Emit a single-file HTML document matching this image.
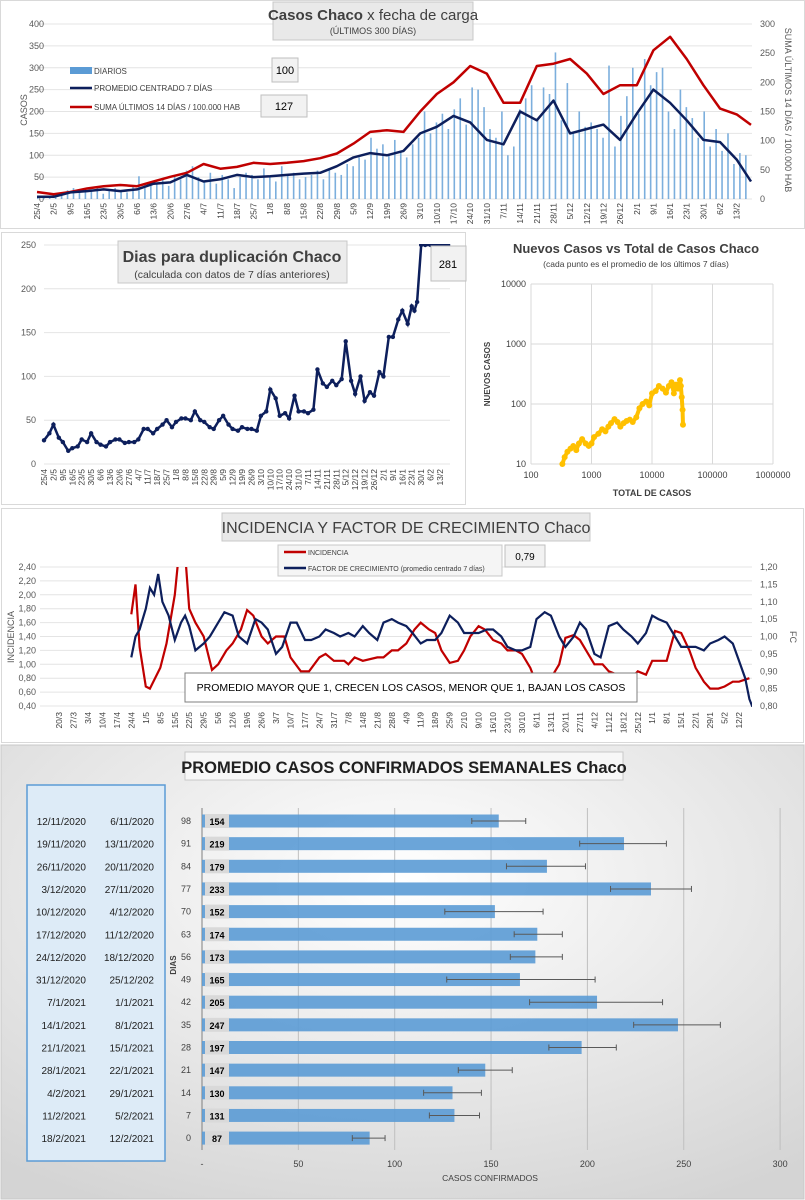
<!DOCTYPE html>
<html><head><meta charset="utf-8">
<style>
body{margin:0;width:805px;height:1200px;background:#fff;font-family:"Liberation Sans Narrow","Liberation Sans",sans-serif;overflow:hidden}
svg{position:absolute;left:0;top:0}
text{font-family:"Liberation Sans Narrow","Liberation Sans",sans-serif}
</style></head><body>
<svg id="s" width="805" height="1200">
<defs>
<radialGradient id="g4" cx="0.5" cy="0.3" r="0.8"><stop offset="0" stop-color="#ffffff"/><stop offset="1" stop-color="#d4d4d4"/></radialGradient>
<clipPath id="c3"><rect x="40" y="567" width="712" height="140"/></clipPath>
<clipPath id="c2"><rect x="40" y="244" width="420" height="222"/></clipPath>
</defs>
</svg>
<script>
// ---------- DATA ----------
const c1Labels=["25/4","2/5","9/5","16/5","23/5","30/5","6/6","13/6","20/6","27/6","4/7","11/7","18/7","25/7","1/8","8/8","15/8","22/8","29/8","5/9","12/9","19/9","26/9","3/10","10/10","17/10","24/10","31/10","7/11","14/11","21/11","28/11","5/12","12/12","19/12","26/12","2/1","9/1","16/1","23/1","30/1","6/2","13/2"];
const c1Bars=[8,5,4,10,12,20,25,15,18,22,28,12,18,25,20,15,30,52,25,40,35,45,30,55,45,65,75,50,40,60,35,55,45,25,50,60,55,45,70,50,40,75,55,60,45,50,55,65,45,70,60,55,80,75,95,90,140,115,125,100,135,110,95,125,140,200,150,175,195,160,205,230,170,255,250,210,160,140,200,100,120,205,230,260,185,255,240,335,180,265,150,200,165,175,160,140,305,120,190,235,300,195,320,260,290,300,200,160,250,210,185,140,200,120,160,110,150,80,105,100];
const c1Days=[0,7,14,21,28,35,42,49,56,63,70,77,84,91,98,105,112,119,126,133,140,147,154,161,168,175,182,189,196,203,210,217,224,231,238,245,252,259,266,273,280,287,294,300];
const c1Avg=[5,5,15,18,22,18,22,35,38,55,40,45,55,50,52,55,58,60,75,95,105,100,110,150,165,190,175,135,125,200,180,225,150,160,170,135,195,250,220,180,135,130,90,40];
const c1Sum=[12,8,12,18,22,24,22,30,38,45,60,52,55,62,60,62,65,70,78,95,115,118,115,150,180,200,228,215,165,165,228,232,240,215,180,195,195,255,278,240,195,155,145,127];

const c2Days=[0,4,7,11,14,18,21,25,28,32,35,39,42,46,49,53,56,60,63,67,70,74,77,81,84,88,91,95,98,102,105,109,112,116,119,123,126,130,133,137,140,144,147,151,154,158,161,165,168,172,175,179,182,186,189,193,196,200,203,207,210,214,217,221,224,228,231,235,238,242,245,249,252,256,259,263,266,270,273,275,277,280,283,287,290,294,297,300];
const c2Vals=[27,35,45,30,25,15,18,20,28,25,35,25,22,20,25,28,28,24,25,25,28,40,40,35,40,45,50,42,48,52,52,50,60,50,48,42,40,50,55,45,40,38,42,40,40,38,55,60,85,75,55,58,52,78,60,60,58,62,108,92,88,95,90,97,140,95,80,100,72,82,78,105,100,145,145,165,175,160,180,175,185,250,250,250,250,250,250,250];
const c3Total=[330,360,400,450,500,560,620,700,800,900,1000,1100,1300,1500,1700,1900,2100,2400,2700,3000,3400,3800,4300,4800,5500,6200,7000,8000,9000,10000,11500,13000,15000,17000,19000,21000,23000,25000,27000,29000,30000,31000,32000,32500];
const c3New=[10,13,16,18,20,17,22,26,22,20,22,28,32,38,35,42,48,56,50,42,48,52,55,50,60,85,100,110,95,150,165,200,180,155,200,230,150,210,180,250,200,130,80,45];
const c4Days=[35,37,39,42,44,46,48,50,53,56,59,61,63,66,70,73,77,80,84,87,91,95,98,101,105,108,112,115,119,122,126,129,133,136,140,143,147,150,154,157,161,164,168,171,175,178,182,185,189,193,196,200,203,207,210,214,217,221,224,228,231,235,238,242,245,249,252,255,259,262,266,270,273,277,280,284,287,290,294,298,301,305,308,312,315,319,322,326,329,332,334,336];
const c4FC=[0.94,1.0,1.02,1.08,1.14,1.12,1.18,1.10,1.06,0.99,1.04,1.06,1.03,0.96,0.98,1.0,1.04,1.07,1.06,1.0,0.98,1.05,1.04,1.02,0.95,0.97,1.04,1.04,0.99,0.99,1.0,1.02,1.01,1.0,1.01,1.0,1.03,1.01,0.99,1.04,1.05,1.04,1.03,1.01,0.98,0.99,0.99,1.01,1.06,1.04,1.01,1.01,1.01,1.02,1.02,1.0,0.97,0.96,0.96,0.97,1.05,1.07,1.06,1.0,0.97,1.0,1.04,1.02,0.95,0.94,1.03,1.04,1.02,1.0,0.98,1.01,1.06,1.05,1.04,1.0,0.97,0.97,0.97,0.96,0.98,0.99,1.0,0.98,0.93,0.88,0.82,0.79];
const c4IDays=[35,37,39,42,44,49,52,56,58,61,63,66,70,74,77,81,84,88,91,94,98,101,105,109,112,117,121,126,129,133,138,140,143,147,154,157,161,164,168,172,175,179,182,185,189,193,196,199,203,206,210,214,217,221,224,228,231,235,238,242,245,249,252,255,259,263,266,270,273,277,280,284,287,291,294,298,301,305,308,312,315,319,322,326,329,332,334];
const c4Inc=[1.72,2.15,1.25,0.68,0.65,0.95,1.3,2.0,2.6,2.6,1.8,1.6,1.4,0.92,1.0,1.2,1.3,1.5,1.78,1.7,1.4,1.3,1.4,1.4,1.1,0.9,0.9,1.1,1.15,1.05,1.05,1.0,1.1,1.05,1.1,1.1,1.2,1.2,1.3,1.5,1.6,1.5,1.45,1.2,1.02,1.05,1.2,1.4,1.55,1.5,1.35,1.3,1.2,1.2,1.15,0.95,0.72,0.72,0.8,1.0,1.38,1.42,1.35,1.2,1.0,1.0,0.9,0.85,0.72,0.8,0.9,0.85,1.05,1.05,1.05,1.48,1.45,1.2,0.95,0.75,0.65,0.65,0.68,0.75,0.75,0.78,0.8];
const c3Labels=["20/3","27/3","3/4","10/4","17/4","24/4","1/5","8/5","15/5","22/5","29/5","5/6","12/6","19/6","26/6","3/7","10/7","17/7","24/7","31/7","7/8","14/8","21/8","28/8","4/9","11/9","18/9","25/9","2/10","9/10","16/10","23/10","30/10","6/11","13/11","20/11","27/11","4/12","11/12","18/12","25/12","1/1","8/1","15/1","22/1","29/1","5/2","12/2"];
const wkVals=[154,219,179,233,152,174,173,165,205,247,197,147,130,131,87];
const wkLow=[140,196,158,212,126,162,160,127,170,224,180,133,115,118,78];
const wkHigh=[168,241,199,254,177,187,187,204,239,269,215,161,145,144,95];
const wkDias=[98,91,84,77,70,63,56,49,42,35,28,21,14,7,0];
const wkEnd=["12/11/2020","19/11/2020","26/11/2020","3/12/2020","10/12/2020","17/12/2020","24/12/2020","31/12/2020","7/1/2021","14/1/2021","21/1/2021","28/1/2021","4/2/2021","11/2/2021","18/2/2021"];
const wkStart=["6/11/2020","13/11/2020","20/11/2020","27/11/2020","4/12/2020","11/12/2020","18/12/2020","25/12/202","1/1/2021","8/1/2021","15/1/2021","22/1/2021","29/1/2021","5/2/2021","12/2/2021"];

// ---------- helpers ----------
const S=document.getElementById('s');const NS='http://www.w3.org/2000/svg';
function el(tag,at,txt,parent){const e=document.createElementNS(NS,tag);for(const k in at)e.setAttribute(k,at[k]);if(txt!==undefined)e.textContent=txt;(parent||S).appendChild(e);return e;}
function path(pts){return pts.map((p,i)=>(i?'L':'M')+p[0].toFixed(1)+' '+p[1].toFixed(1)).join('');}

// ---------- CHART 1 ----------
const x1=d=>37+d*2.38, y1=v=>199-v*0.4375, y1r=v=>199-v*(175/300);
let e=el('rect',{x:0.5,y:0.5,width:804,height:228,fill:'#fff',stroke:'#d9d9d9'});

for(let v=0;v<=400;v+=50){el('line',{x1:37,x2:752,y1:y1(v),y2:y1(v),stroke:'#e4e4e4'});
 e=el('text',{x:44,y:y1(v)+3,'font-size':9,fill:'#595959','text-anchor':'end'},String(v));}
for(let v=0;v<=300;v+=50){e=el('text',{x:760,y:y1r(v)+3,'font-size':9,fill:'#595959'},String(v));}
const bw=300/c1Bars.length;
c1Bars.forEach((v,i)=>{e=el('rect',{x:x1(i*bw),y:y1(v),width:1.6,height:199-y1(v),fill:'#5b9bd5',opacity:0.8});});
e=el('path',{d:path(c1Days.map((d,i)=>[x1(d),y1r(c1Sum[i])])),fill:'none',stroke:'#c00000','stroke-width':2.5,'stroke-linejoin':'round'});
e=el('path',{d:path(c1Days.map((d,i)=>[x1(d),y1(c1Avg[i])])),fill:'none',stroke:'#0d1f5c','stroke-width':2.5,'stroke-linejoin':'round'});
c1Labels.forEach((l,i)=>{const x=x1(i*7)+3;e=el('text',{x:x,y:203,'font-size':8.5,fill:'#404040','text-anchor':'end',transform:`rotate(-90 ${x} 203)`},l);});
e=el('text',{x:27,y:110,'font-size':9,fill:'#595959','text-anchor':'middle',transform:'rotate(-90 27 110)'},'CASOS');
e=el('text',{x:785,y:110,'font-size':9,fill:'#595959','text-anchor':'middle',transform:'rotate(90 785 110)'},'SUMA  ÚLTIMOS 14 DÍAS / 100.000 HAB');
e=el('rect',{x:273,y:2,width:200,height:38,fill:'#e9e9e9',stroke:'#c8c8c8'});
e=el('text',{x:373,y:20,'font-size':15,fill:'#404040','text-anchor':'middle'});
el('tspan',{'font-weight':'bold'},'Casos Chaco',e);el('tspan',{},' x fecha de carga',e);
e=el('text',{x:373,y:34,'font-size':9,fill:'#404040','text-anchor':'middle'},'(ÚLTIMOS 300 DÍAS)');
el('rect',{x:70,y:67,width:22,height:7,fill:'#5b9bd5'});
e=el('text',{x:94,y:74,'font-size':8,fill:'#404040'},'DIARIOS');
el('line',{x1:70,x2:92,y1:88,y2:88,stroke:'#0d1f5c','stroke-width':2.5});
e=el('text',{x:94,y:91,'font-size':8,fill:'#404040'},'PROMEDIO CENTRADO 7 DÍAS');
el('line',{x1:70,x2:92,y1:107,y2:107,stroke:'#c00000','stroke-width':2.5});
e=el('text',{x:94,y:110,'font-size':8,fill:'#404040'},'SUMA ÚLTIMOS 14 DÍAS / 100.000 HAB');
el('rect',{x:272,y:58,width:26,height:24,fill:'#f2f2f2',stroke:'#bfbfbf'});
e=el('text',{x:285,y:74,'font-size':11,fill:'#000','text-anchor':'middle'},'100');
el('rect',{x:261,y:95,width:46,height:22,fill:'#f2f2f2',stroke:'#bfbfbf'});
e=el('text',{x:284,y:110,'font-size':11,fill:'#000','text-anchor':'middle'},'127');

// ---------- CHART 2 ----------
const x2=d=>44+d*1.347, y2=v=>464-v*0.876;
e=el('rect',{x:1.5,y:232.5,width:464,height:272,fill:'#fff',stroke:'#d9d9d9'});
for(let v=0;v<=250;v+=50){el('line',{x1:44,x2:450,y1:y2(v),y2:y2(v),stroke:'#e4e4e4'});
 e=el('text',{x:36,y:y2(v)+3,'font-size':9,fill:'#595959','text-anchor':'end'},String(v));}
const g2=el('g',{'clip-path':'url(#c2)'});
e=el('path',{d:path(c2Days.map((d,i)=>[x2(d),y2(c2Vals[i])])),fill:'none',stroke:'#0d1f5c','stroke-width':2.5},undefined,g2);
c2Days.forEach((d,i)=>{e=el('circle',{cx:x2(d),cy:y2(c2Vals[i]),r:2.2,fill:'#0d1f5c'},undefined,g2);});
c1Labels.forEach((l,i)=>{const x=x2(i*7)+3;e=el('text',{x:x,y:469,'font-size':8.5,fill:'#404040','text-anchor':'end',transform:`rotate(-90 ${x} 469)`},l);});
e=el('rect',{x:118,y:241,width:229,height:42,fill:'#ececec',stroke:'#c8c8c8'});
e=el('text',{x:232,y:262,'font-size':16,'font-weight':'bold',fill:'#404040','text-anchor':'middle'},'Dias para duplicación Chaco');
e=el('text',{x:232,y:278,'font-size':10.5,fill:'#404040','text-anchor':'middle'},'(calculada con datos de 7 días anteriores)');
el('rect',{x:431,y:246,width:35,height:35,fill:'#f2f2f2',stroke:'#bfbfbf'});
e=el('text',{x:448,y:268,'font-size':11,fill:'#000','text-anchor':'middle'},'281');

// ---------- CHART 2b (log scatter) ----------
const xl=v=>531+(Math.log10(v)-2)*60.5, yl=v=>464-(Math.log10(v)-1)*60;
for(let p=2;p<=6;p++){el('line',{x1:xl(10**p),x2:xl(10**p),y1:284,y2:464,stroke:'#d9d9d9'});
 e=el('text',{x:xl(10**p),y:478,'font-size':9,fill:'#404040','text-anchor':'middle'},String(10**p));}
for(let p=1;p<=4;p++){el('line',{x1:531,x2:773,y1:yl(10**p),y2:yl(10**p),stroke:'#d9d9d9'});
 e=el('text',{x:526,y:yl(10**p)+3,'font-size':9,fill:'#404040','text-anchor':'end'},String(10**p));}
for(let i=0;i<c3Total.length;i++){e=el('circle',{cx:xl(c3Total[i]),cy:yl(c3New[i]),r:3,fill:'#ffc000'});
 if(i>0){el('line',{x1:xl(c3Total[i-1]),y1:yl(c3New[i-1]),x2:xl(c3Total[i]),y2:yl(c3New[i]),stroke:'#ffc000','stroke-width':4});}}
e=el('text',{x:636,y:253,'font-size':13,'font-weight':'bold',fill:'#404040','text-anchor':'middle'},'Nuevos Casos vs Total de Casos Chaco');
e=el('text',{x:636,y:267,'font-size':8.5,fill:'#404040','text-anchor':'middle'},'(cada punto es el promedio de los últimos 7 días)');
e=el('text',{x:490,y:374,'font-size':8,'font-weight':'bold',fill:'#404040','text-anchor':'middle',transform:'rotate(-90 490 374)'},'NUEVOS  CASOS');
e=el('text',{x:652,y:496,'font-size':9,'font-weight':'bold',fill:'#404040','text-anchor':'middle'},'TOTAL DE CASOS');

// ---------- CHART 3 ----------
const x3=d=>59+d*2.067, y3=v=>706-(v-0.4)*69.5, y3r=v=>706-(v-0.8)*347.5;
e=el('rect',{x:1.5,y:508.5,width:802,height:234,fill:'#fff',stroke:'#d9d9d9'});
for(let k=0;k<=10;k++){const v=0.4+k*0.2;el('line',{x1:40,x2:752,y1:y3(v),y2:y3(v),stroke:'#e4e4e4'});
 e=el('text',{x:36,y:y3(v)+3,'font-size':9,fill:'#595959','text-anchor':'end'},v.toFixed(2).replace('.',','));}
for(let k=0;k<=8;k++){const v=0.8+k*0.05;e=el('text',{x:760,y:y3r(v)+3,'font-size':9,fill:'#595959'},v.toFixed(2).replace('.',','));}
c3Labels.forEach((l,i)=>{const x=x3(i*7)+3;e=el('text',{x:x,y:712,'font-size':8.5,fill:'#404040','text-anchor':'end',transform:`rotate(-90 ${x} 712)`},l);});
const g3=el('g',{'clip-path':'url(#c3)'});
e=el('path',{d:path(c4IDays.map((d,i)=>[x3(d),y3(c4Inc[i])])),fill:'none',stroke:'#c00000','stroke-width':2.2},undefined,g3);
e=el('path',{d:path(c4Days.map((d,i)=>[x3(d),y3r(c4FC[i])])),fill:'none',stroke:'#0d1f5c','stroke-width':2.2},undefined,g3);
e=el('text',{x:14,y:637,'font-size':9,fill:'#595959','text-anchor':'middle',transform:'rotate(-90 14 637)'},'INCIDENCIA');
e=el('text',{x:790,y:637,'font-size':9,fill:'#595959','text-anchor':'middle',transform:'rotate(90 790 637)'},'FC');
e=el('rect',{x:222,y:513,width:368,height:28,fill:'#e9e9e9',stroke:'#c8c8c8'});
e=el('text',{x:406,y:533,'font-size':16,fill:'#404040','text-anchor':'middle'},'INCIDENCIA Y FACTOR DE CRECIMIENTO Chaco');
el('rect',{x:278,y:545,width:224,height:31,fill:'#f5f5f5',stroke:'#c8c8c8'});
el('line',{x1:284,x2:306,y1:552,y2:552,stroke:'#c00000','stroke-width':2.5});
e=el('text',{x:308,y:555,'font-size':7,fill:'#404040'},'INCIDENCIA');
el('line',{x1:284,x2:306,y1:568,y2:568,stroke:'#0d1f5c','stroke-width':2.5});
e=el('text',{x:308,y:571,'font-size':7,fill:'#404040'},'FACTOR DE CRECIMIENTO (promedio centrado 7 días)');
el('rect',{x:505,y:545,width:40,height:22,fill:'#f2f2f2',stroke:'#bfbfbf'});
e=el('text',{x:525,y:560,'font-size':10,fill:'#000','text-anchor':'middle'},'0,79');
el('rect',{x:185,y:673,width:452,height:29,fill:'#fff',stroke:'#7f7f7f'});
e=el('text',{x:411,y:691,'font-size':10.5,fill:'#000','text-anchor':'middle'},'PROMEDIO MAYOR QUE 1, CRECEN LOS CASOS, MENOR QUE 1, BAJAN LOS CASOS');

// ---------- CHART 4 ----------
const x4=v=>202+v*1.927, row=i=>821+i*22.65;
e=el('rect',{x:1,y:745,width:803,height:454,fill:'url(#g4)',stroke:'#c8c8c8'});
e=el('rect',{x:185,y:752,width:438,height:28,fill:'#f7f7f7',stroke:'#c8c8c8'});
e=el('text',{x:404,y:773,'font-size':16.5,'font-weight':'bold',fill:'#202020','text-anchor':'middle'},'PROMEDIO CASOS CONFIRMADOS SEMANALES Chaco');
for(let v=50;v<=300;v+=50)el('line',{x1:x4(v),x2:x4(v),y1:808,y2:1150,stroke:'#bfbfbf'});
el('line',{x1:x4(0),x2:x4(0),y1:808,y2:1150,stroke:'#7f7f7f'});
for(let v=0;v<=300;v+=50){e=el('text',{x:x4(v),y:1167,'font-size':9,fill:'#404040','text-anchor':'middle'},v?String(v):'-');}
e=el('text',{x:490,y:1181,'font-size':8.5,fill:'#404040','text-anchor':'middle'},'CASOS CONFIRMADOS');
e=el('text',{x:176,y:965,'font-size':8,'font-weight':'bold',fill:'#404040','text-anchor':'middle',transform:'rotate(-90 176 965)'},'DIAS');
e=el('rect',{x:27,y:785,width:138,height:376,fill:'#ddebf7',stroke:'#5b9bd5','stroke-width':1.5});
wkVals.forEach((v,i)=>{const y=row(i);
 e=el('rect',{x:x4(0),y:y-6.5,width:x4(v)-x4(0),height:13,fill:'#5b9bd5',opacity:0.9});
 el('line',{x1:x4(wkLow[i]),x2:x4(wkHigh[i]),y1:y,y2:y,stroke:'#595959','stroke-width':1});
 el('line',{x1:x4(wkLow[i]),x2:x4(wkLow[i]),y1:y-3,y2:y+3,stroke:'#595959'});
 el('line',{x1:x4(wkHigh[i]),x2:x4(wkHigh[i]),y1:y-3,y2:y+3,stroke:'#595959'});
 el('rect',{x:205,y:y-7,width:24,height:14,fill:'#d9d9d9'});
 e=el('text',{x:217,y:y+4,'font-size':9,'font-weight':'bold',fill:'#000','text-anchor':'middle'},String(v));
 e=el('text',{x:191,y:y+3,'font-size':9,fill:'#404040','text-anchor':'end'},String(wkDias[i]));
 e=el('text',{x:86,y:y+4,'font-size':10,fill:'#202020','text-anchor':'end'},wkEnd[i]);
 e=el('text',{x:154,y:y+4,'font-size':10,fill:'#202020','text-anchor':'end'},wkStart[i]);
});
</script>
</body></html>
